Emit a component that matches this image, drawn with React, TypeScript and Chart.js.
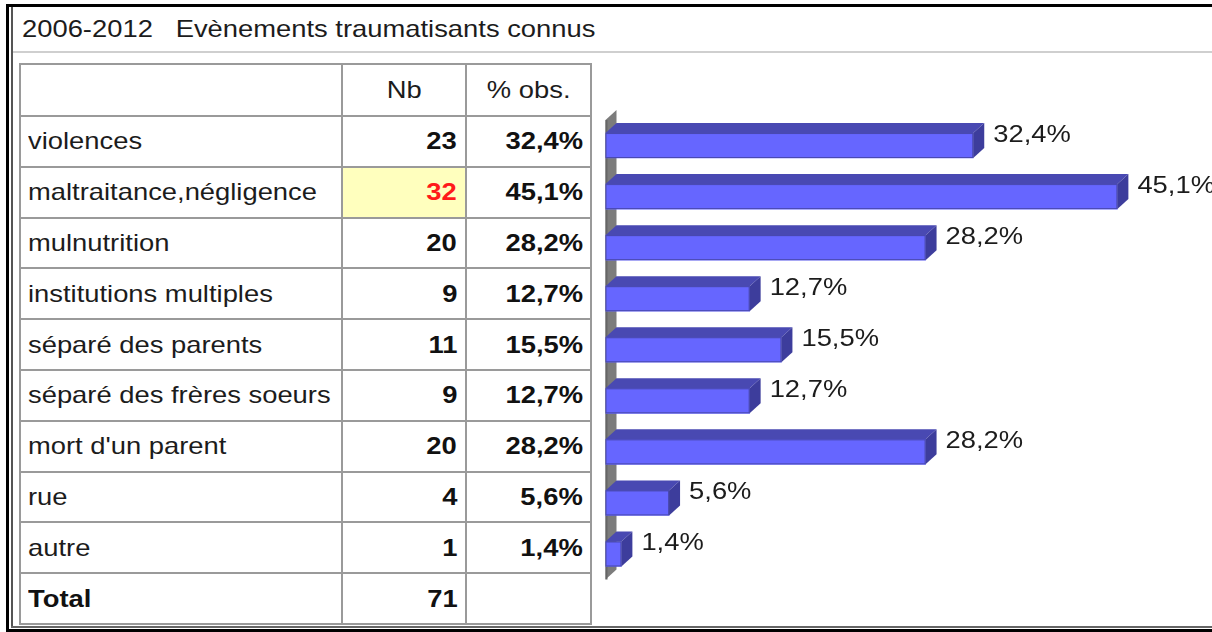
import React, { useEffect, useRef } from "react";
import { Chart, registerables } from "chart.js";

Chart.register(...registerables);

// ---------- data ----------
const titleYears = "2006-2012";
const titleText = "Evènements traumatisants connus";
const headerNb = "Nb";
const headerPct = "% obs.";
const categories = [
  "violences",
  "maltraitance,négligence",
  "mulnutrition",
  "institutions multiples",
  "séparé des parents",
  "séparé des frères soeurs",
  "mort d'un parent",
  "rue",
  "autre",
];
const counts = [23, 32, 20, 9, 11, 9, 20, 4, 1];
const percents = [32.4, 45.1, 28.2, 12.7, 15.5, 12.7, 28.2, 5.6, 1.4];
const totalLabel = "Total";
const totalCount = 71;
const highlightIndex = 1;

const fmtPct = (v: number) => v.toFixed(1).replace(".", ",") + "%";

// ---------- style ----------
const FONT = '"Liberation Sans", Arial, Helvetica, sans-serif';
const FS = 24;
const SX = 1.14;
const TEXT = "#1c1c1c";
const LINE = "#9a9a9a";

const BAR_FRONT = "#6666ff";
const BAR_TOP = "#4949b2";
const BAR_SIDE = "#3d3d9c";
const WALL = "#7c7c7c";
const DX = 11;
const DY = 10;

// table geometry
const TX = [20, 342, 466, 591];
const HEADER_TOP = 64;
const HEADER_H = 52;
const ROW_H = 50.8;

function St({ children, align, bold, color }: any) {
  const origin = align === "right" ? "right center" : align === "center" ? "center center" : "left center";
  return (
    <span
      style={{
        display: "inline-block",
        transform: `scaleX(${SX})`,
        transformOrigin: origin,
        whiteSpace: "pre",
        fontWeight: bold ? "bold" : "normal",
        color: color || TEXT,
      }}
    >
      {children}
    </span>
  );
}

function Cell({ x0, x1, y0, y1, align, children, bg }: any) {
  return (
    <div
      style={{
        position: "absolute",
        left: x0,
        top: y0,
        width: x1 - x0,
        height: y1 - y0,
        display: "flex",
        alignItems: "center",
        justifyContent: align === "right" ? "flex-end" : align === "center" ? "center" : "flex-start",
        padding: align === "right" ? "0 8px 0 0" : align === "center" ? 0 : "0 0 0 8px",
        boxSizing: "border-box",
        background: bg || "transparent",
        fontFamily: FONT,
        fontSize: FS,
        lineHeight: 1,
      }}
    >
      {children}
    </div>
  );
}

const threeD = {
  id: "threeD",
  beforeDatasetsDraw(chart: any) {
    const { ctx, chartArea } = chart;
    const L = chartArea.left;
    const T = chartArea.top;
    const B = chartArea.bottom;
    ctx.save();
    ctx.fillStyle = WALL;
    ctx.beginPath();
    ctx.moveTo(L, T);
    ctx.lineTo(L + DX, T - DY);
    ctx.lineTo(L + DX, B - DY);
    ctx.lineTo(L, B);
    ctx.closePath();
    ctx.fill();
    ctx.fillStyle = "#666";
    ctx.fillRect(L, T, 2, B - T);
    ctx.restore();
  },
  afterDatasetsDraw(chart: any) {
    const { ctx } = chart;
    const meta = chart.getDatasetMeta(0);
    ctx.save();
    meta.data.forEach((bar: any, i: number) => {
      const p = bar.getProps(["x", "y", "base", "height"], true);
      const top = p.y - p.height / 2;
      const bot = p.y + p.height / 2;
      const x0 = p.base;
      const x1 = p.x;
      // top face
      ctx.fillStyle = BAR_TOP;
      ctx.beginPath();
      ctx.moveTo(x0, top);
      ctx.lineTo(x1, top);
      ctx.lineTo(x1 + DX, top - DY);
      ctx.lineTo(x0 + DX, top - DY);
      ctx.closePath();
      ctx.fill();
      // side face
      ctx.fillStyle = BAR_SIDE;
      ctx.beginPath();
      ctx.moveTo(x1, top);
      ctx.lineTo(x1 + DX, top - DY);
      ctx.lineTo(x1 + DX, bot - DY);
      ctx.lineTo(x1, bot);
      ctx.closePath();
      ctx.fill();
      // edges
      ctx.strokeStyle = "rgba(50,50,110,0.55)";
      ctx.lineWidth = 1;
      ctx.strokeRect(x0 + 0.5, top + 0.5, x1 - x0 - 1, bot - top - 1);
      // label
      ctx.save();
      ctx.font = `${FS}px ${FONT}`;
      ctx.fillStyle = TEXT;
      ctx.textBaseline = "middle";
      ctx.textAlign = "left";
      ctx.translate(x1 + DX + 9, top + 2);
      ctx.scale(SX, 1);
      ctx.fillText(fmtPct(percents[i]), 0, 0);
      ctx.restore();
    });
    ctx.restore();
  },
};

function BarChart() {
  const ref = useRef<HTMLCanvasElement | null>(null);
  useEffect(() => {
    if (!ref.current) return;
    const chart = new Chart(ref.current, {
      type: "bar",
      data: {
        labels: categories,
        datasets: [
          {
            data: percents,
            backgroundColor: BAR_FRONT,
            borderWidth: 0,
            barThickness: 25,
          },
        ],
      },
      options: {
        indexAxis: "y",
        responsive: false,
        animation: false,
        devicePixelRatio: 1,
        layout: { padding: { left: 9.5, right: 39, top: 20, bottom: 20.5 } },
        scales: {
          x: { display: false, min: 0, max: 50 },
          y: { display: false },
        },
        plugins: { legend: { display: false }, tooltip: { enabled: false } },
        events: [],
      } as any,
      plugins: [threeD],
    });
    return () => chart.destroy();
  }, []);
  return (
    <canvas
      ref={ref}
      width={616}
      height={500}
      style={{ position: "absolute", left: 596, top: 100, width: 616, height: 500 }}
    />
  );
}

export default function App() {
  const rowTops: number[] = [];
  for (let i = 0; i <= categories.length + 1; i++) rowTops.push(HEADER_TOP + HEADER_H + i * ROW_H);
  const tableBottom = rowTops[categories.length + 1];
  const hLines = [HEADER_TOP, ...rowTops];

  return (
    <div
      style={{
        position: "absolute",
        left: 0,
        top: 0,
        width: 1212,
        height: 632,
        overflow: "hidden",
        background: "#fff",
        fontFamily: FONT,
      }}
    >
      {/* outer frame */}
      <div style={{ position: "absolute", left: 6, top: 4, width: 1206, height: 3, background: "#000" }} />
      <div style={{ position: "absolute", left: 6, top: 4, width: 3, height: 628, background: "#000" }} />
      <div style={{ position: "absolute", left: 6, top: 629, width: 1206, height: 3, background: "#000" }} />
      <div style={{ position: "absolute", left: 11, top: 7, width: 2, height: 621, background: "#555" }} />
      <div style={{ position: "absolute", left: 11, top: 626, width: 1201, height: 2, background: "#666" }} />
      <div style={{ position: "absolute", left: 13, top: 51, width: 1199, height: 2, background: "#cfcfcf" }} />

      {/* title */}
      <div style={{ position: "absolute", left: 22, top: 17, fontSize: FS, lineHeight: 1 }}>
        <St>{titleYears + "\u00a0\u00a0\u00a0" + titleText}</St>
      </div>

      {/* table lines */}
      {hLines.map((y, i) => (
        <div
          key={"h" + i}
          style={{ position: "absolute", left: TX[0], top: y - 1, width: TX[3] - TX[0] + 1, height: 2, background: LINE }}
        />
      ))}
      {TX.map((x, i) => (
        <div
          key={"v" + i}
          style={{ position: "absolute", left: x - 1, top: HEADER_TOP - 1, width: 2, height: tableBottom - HEADER_TOP + 2, background: LINE }}
        />
      ))}

      {/* header */}
      <Cell x0={TX[1]} x1={TX[2]} y0={HEADER_TOP} y1={HEADER_TOP + HEADER_H} align="center">
        <St align="center">{headerNb}</St>
      </Cell>
      <Cell x0={TX[2]} x1={TX[3]} y0={HEADER_TOP} y1={HEADER_TOP + HEADER_H} align="center">
        <St align="center">{headerPct}</St>
      </Cell>

      {/* rows */}
      {categories.map((c, i) => {
        const y0 = rowTops[i];
        const y1 = rowTops[i + 1];
        const hl = i === highlightIndex;
        return (
          <React.Fragment key={c}>
            <Cell x0={TX[0]} x1={TX[1]} y0={y0} y1={y1} align="left">
              <St>{c}</St>
            </Cell>
            <Cell x0={TX[1] + 1} x1={TX[2] - 1} y0={y0 + 1} y1={y1 - 1} align="right" bg={hl ? "#ffffbe" : undefined}>
              <St align="right" bold color={hl ? "#ff1a1a" : "#111"}>
                {String(counts[i])}
              </St>
            </Cell>
            <Cell x0={TX[2]} x1={TX[3]} y0={y0} y1={y1} align="right">
              <St align="right" bold color="#111">
                {fmtPct(percents[i])}
              </St>
            </Cell>
          </React.Fragment>
        );
      })}

      {/* total */}
      <Cell x0={TX[0]} x1={TX[1]} y0={rowTops[categories.length]} y1={tableBottom} align="left">
        <St bold color="#111">{totalLabel}</St>
      </Cell>
      <Cell x0={TX[1]} x1={TX[2]} y0={rowTops[categories.length]} y1={tableBottom} align="right">
        <St align="right" bold color="#111">{String(totalCount)}</St>
      </Cell>

      <BarChart />
    </div>
  );
}
